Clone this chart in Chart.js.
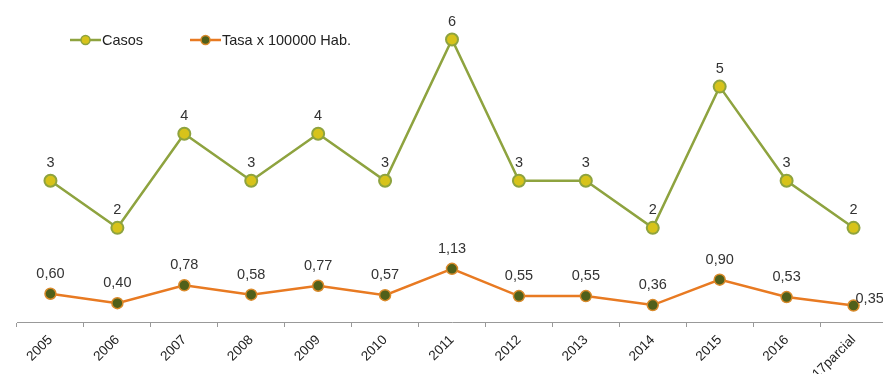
<!DOCTYPE html>
<html>
<head>
<meta charset="utf-8">
<script src="https://cdn.jsdelivr.net/npm/chart.js@4/dist/chart.umd.min.js"></script>
<style>
  html, body { margin: 0; padding: 0; background: #fff; overflow: hidden; }
  #wrap { width: 895px; height: 374px; }
</style>
</head>
<body>
<div id="wrap"><canvas id="casosChart"></canvas></div>
<script>
const years = ["2005", "2006", "2007", "2008", "2009", "2010", "2011", "2012", "2013", "2014", "2015", "2016", "2017parcial"];
const casos = [3, 2, 4, 3, 4, 3, 6, 3, 3, 2, 5, 3, 2];
const tasa = [0.60, 0.40, 0.78, 0.58, 0.77, 0.57, 1.13, 0.55, 0.55, 0.36, 0.90, 0.53, 0.35];

const greenLine = '#8ea33f';
const orangeLine = '#e87a22';
const fontFam = '"Liberation Sans", Arial, sans-serif';

// value labels above each point (comma decimals for tasa)
const valueLabels = {
    id: 'valueLabels',
    afterDatasetsDraw(chart) {
        const ctx = chart.ctx;
        ctx.save();
        ctx.font = '14.5px ' + fontFam;
        ctx.fillStyle = '#333';
        ctx.textBaseline = 'middle';
        chart.data.datasets.forEach((ds, i) => {
            const meta = chart.getDatasetMeta(i);
            meta.data.forEach((pt, j) => {
                let txt = i === 0 ? String(ds.data[j]) : ds.data[j].toFixed(2).replace('.', ',');
                if (i === 1 && j === ds.data.length - 1) {
                    ctx.textAlign = 'left';
                    ctx.fillText(txt, pt.x + 2, pt.y - 7);
                } else {
                    ctx.textAlign = 'center';
                    ctx.fillText(txt, pt.x, pt.y - (i === 0 ? 18 : 20));
                }
            });
        });
        ctx.restore();
    }
};

// legend: line with marker in the middle, then the text
const lineLegend = {
    id: 'lineLegend',
    afterDraw(chart) {
        const ctx = chart.ctx;
        const items = [
            { x: 70, text: 'Casos', line: greenLine, fill: '#d7c31a', border: greenLine },
            { x: 190, text: 'Tasa x 100000 Hab.', line: orangeLine, fill: '#50601a', border: '#d98a2a' }
        ];
        ctx.save();
        ctx.font = '14.5px ' + fontFam;
        ctx.textBaseline = 'middle';
        ctx.textAlign = 'left';
        items.forEach(it => {
            const y = 40;
            ctx.strokeStyle = it.line;
            ctx.lineWidth = 2.5;
            ctx.beginPath();
            ctx.moveTo(it.x, y);
            ctx.lineTo(it.x + 31, y);
            ctx.stroke();
            ctx.beginPath();
            ctx.arc(it.x + 15.5, y, 4.5, 0, Math.PI * 2);
            ctx.fillStyle = it.fill;
            ctx.fill();
            ctx.lineWidth = 1.5;
            ctx.strokeStyle = it.border;
            ctx.stroke();
            ctx.fillStyle = '#222';
            ctx.fillText(it.text, it.x + 32, y + 1);
        });
        ctx.restore();
    }
};

const ctx = document.getElementById('casosChart').getContext('2d');
const casosChart = new Chart(ctx, {
    type: 'line',
    data: {
        labels: years,
        datasets: [{
            label: 'Casos',
            data: casos,
            borderColor: greenLine,
            borderWidth: 2.5,
            pointBackgroundColor: '#d7c31a',
            pointBorderColor: greenLine,
            pointBorderWidth: 2,
            pointRadius: 6,
            tension: 0
        },
        {
            label: 'Tasa x 100000 Hab.',
            data: tasa,
            borderColor: orangeLine,
            borderWidth: 2.5,
            pointBackgroundColor: '#50601a',
            pointBorderColor: '#d98a2a',
            pointBorderWidth: 1.5,
            pointRadius: 5.5,
            tension: 0
        }]
    },
    options: {
        responsive: true,
        maintainAspectRatio: false,
        animation: false,
        layout: { padding: { top: 16, left: 17, right: 0, bottom: 0 } },
        plugins: {
            legend: { display: false },
            tooltip: { enabled: false }
        },
        scales: {
            x: {
                offset: true,
                grid: {
                    offset: true,
                    drawOnChartArea: false,
                    drawTicks: true,
                    tickLength: 5,
                    color: '#999'
                },
                border: { color: '#999', width: 1 },
                ticks: {
                    autoSkip: false,
                    maxRotation: 45,
                    minRotation: 45,
                    padding: 5,
                    color: '#222',
                    font: { size: 13.5, family: fontFam }
                },
                afterFit(scale) { scale.height = 52; }
            },
            y: {
                display: false,
                min: 0,
                max: 6.5
            }
        }
    },
    plugins: [valueLabels, lineLegend]
});
</script>
</body>
</html>
